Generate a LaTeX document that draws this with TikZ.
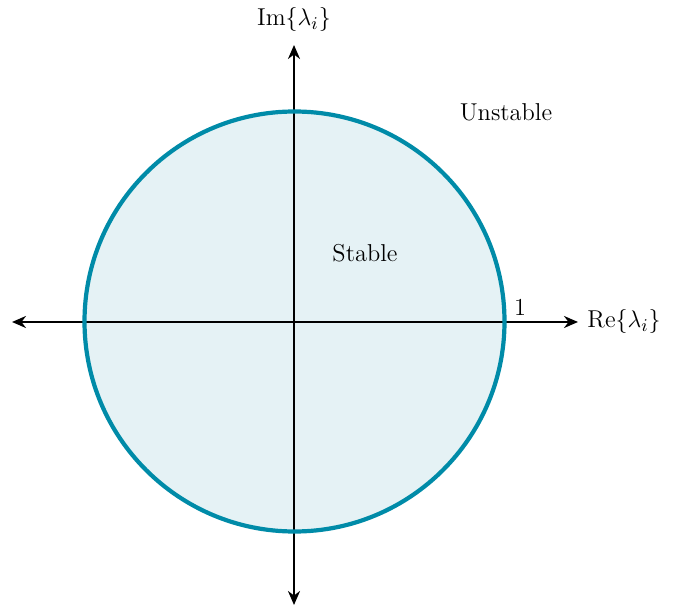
\documentclass[tikz,border=0pt]{standalone}
\usetikzlibrary{arrows.meta}
\definecolor{ringcol}{RGB}{0,139,168}
\definecolor{fillcol}{RGB}{229,242,245}
\begin{document}
\begin{tikzpicture}[x=0.5pt,y=-0.5pt,
  axis/.style={line width=1.2pt,{Stealth[length=7pt,width=6pt]}-{Stealth[length=7pt,width=6pt]}},
  lbl/.style={font=\fontsize{12.2}{14}\selectfont, inner sep=0pt}]
\useasboundingbox (0,0) rectangle (673,608);
\coordinate (c) at (294.5,321.5);
\fill[fillcol] (c) circle[radius=210];
\coordinate (xl) at (12,322);
\coordinate (xr) at (578,322);
\coordinate (yt) at (294,45);
\coordinate (yb) at (294,605);
\draw[axis] (xl) -- (xr);
\draw[axis] (yb) -- (yt);
\draw[ringcol, line width=2.1pt] (c) circle[radius=210];
\node[lbl] (im) at (294,20) {Im$\{\lambda_i\}$};
\node[lbl, anchor=west] (re) at (587,322) {Re$\{\lambda_i\}$};
\node[lbl] (one) at (520,307) {1};
\node[lbl] (unst) at (506,112) {Unstable};
\node[lbl] (st) at (365,253) {Stable};
\end{tikzpicture}
\end{document}
